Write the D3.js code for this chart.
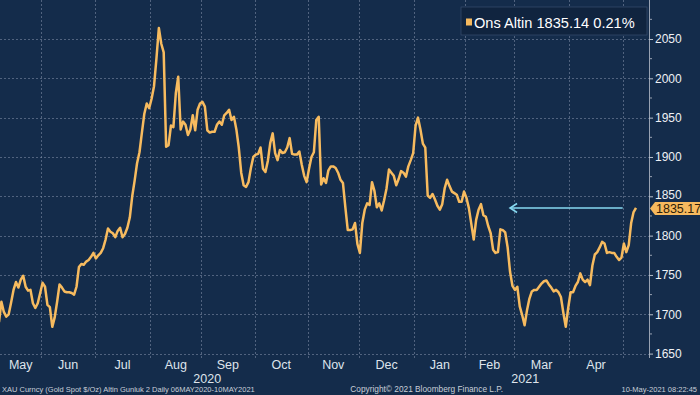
<!DOCTYPE html>
<html>
<head>
<meta charset="utf-8">
<script src="https://cdn.jsdelivr.net/npm/d3@7"></script>
<style>
  html, body { margin: 0; padding: 0; background: #142c4b; }
  svg { display: block; }
  text { font-family: "Liberation Sans", Arial, sans-serif; }
</style>
</head>
<body>
<div id="chart"></div>
<script>
const w = 700;
const h = 395;
const plot = { left: 0, right: 649, top: 0, bottom: 358 };

// trading sessions (weekdays) from first to last day
const firstSession = "2020-05-06";
const lastSession = "2021-05-10";

// daily gold spot closes, one array per month
const may20 = [1690, 1716, 1703, 1697, 1700, 1715, 1731, 1741, 1734, 1744, 1749, 1735, 1730, 1731, 1714, 1708, 1714, 1727];
const jun20 = [1740, 1735, 1712, 1709, 1684, 1696, 1716, 1738, 1734, 1729, 1728, 1728, 1727, 1725, 1735, 1760, 1764, 1763, 1767, 1769, 1773, 1778];
const jul20 = [1771, 1775, 1778, 1784, 1795, 1809, 1805, 1803, 1798, 1806, 1810, 1798, 1802, 1810, 1823, 1850, 1870, 1892, 1906, 1931, 1955, 1968, 1962];
const aug20 = [1974, 1990, 2025, 2064, 2044, 2033, 1913, 1915, 1940, 1938, 1981, 2002, 1935, 1945, 1941, 1928, 1935, 1953, 1934, 1960, 1968];
const sep20 = [1970, 1964, 1934, 1931, 1932, 1932, 1941, 1945, 1941, 1953, 1956, 1960, 1947, 1951, 1935, 1912, 1880, 1864, 1862, 1868, 1886, 1900];
const oct20 = [1903, 1904, 1912, 1885, 1881, 1895, 1918, 1930, 1905, 1896, 1909, 1905, 1906, 1912, 1924, 1904, 1903, 1903, 1907, 1890, 1876, 1868];
const nov20 = [1885, 1900, 1906, 1947, 1951, 1865, 1873, 1867, 1883, 1888, 1888, 1886, 1880, 1871, 1867, 1836, 1807, 1807, 1808, 1816, 1789];
const dec20 = [1778, 1816, 1833, 1841, 1839, 1868, 1857, 1836, 1841, 1832, 1845, 1860, 1884, 1880, 1876, 1864, 1872, 1882, 1880, 1875, 1888, 1896, 1905];
const jan21 = [1940, 1950, 1935, 1917, 1912, 1851, 1848, 1853, 1846, 1838, 1833, 1840, 1860, 1871, 1863, 1856, 1854, 1852, 1843, 1843, 1856];
const feb21 = [1848, 1835, 1815, 1795, 1820, 1833, 1840, 1826, 1824, 1812, 1803, 1782, 1778, 1779, 1808, 1807, 1804, 1785, 1754, 1736];
const mar21 = [1731, 1735, 1710, 1699, 1686, 1705, 1720, 1729, 1731, 1731, 1735, 1739, 1742, 1743, 1738, 1734, 1729, 1731, 1728, 1722, 1702, 1684, 1708];
const apr21 = [1728, 1728, 1736, 1741, 1752, 1744, 1741, 1744, 1737, 1762, 1776, 1779, 1785, 1792, 1790, 1778, 1779, 1778, 1778, 1773, 1769, 1772];
const may21 = [1790, 1779, 1788, 1816, 1830, 1835.17];

const monthStarts = ["2020-06-01", "2020-07-01", "2020-08-01", "2020-09-01", "2020-10-01", "2020-11-01",
  "2020-12-01", "2021-01-01", "2021-02-01", "2021-03-01", "2021-04-01", "2021-05-01"];
const monthLabels = ["May", "Jun", "Jul", "Aug", "Sep", "Oct", "Nov", "Dec", "Jan", "Feb", "Mar", "Apr"];
const yearLabels = ["2020", "2021"];
const yTicks = [1650, 1700, 1750, 1800, 1850, 1900, 1950, 2000, 2050];
const yMinor = [1675, 1725, 1775, 1825, 1875, 1925, 1975, 2025, 2075];

const legendText = "Ons Altin 1835.14 0.21%";
const lastLabel = "1835.17";
const arrowDates = ["2021-02-25", "2021-05-03"];
const footLeft = "XAU Curncy (Gold Spot   $/Oz) Altin Gunluk 2  Daily 06MAY2020-10MAY2021";
const footMid = "Copyright\u00A9 2021 Bloomberg Finance L.P.";
const footRight = "10-May-2021 08:22:45";

const closes = [].concat(may20, jun20, jul20, aug20, sep20, oct20, nov20, dec20, jan21, feb21, mar21, apr21, may21);

const parse = d3.timeParse("%Y-%m-%d");
const sessions = d3.timeDay
  .range(parse(firstSession), d3.timeDay.offset(parse(lastSession), 1))
  .filter(d => d.getDay() !== 0 && d.getDay() !== 6);
const data = sessions.map((d, i) => ({ date: d, i: i, value: closes[i] }));
const sessionIndex = s => d3.bisectLeft(sessions, parse(s));

const x = d3.scaleLinear().domain([0, sessions.length - 1]).range([-1, 636]);
const y = d3.scaleLinear().domain([1650, 2050]).range([353.6, 39]);

const svg = d3.select("#chart").append("svg")
  .attr("width", w)
  .attr("height", h);

svg.append("rect")
  .attr("width", w).attr("height", h)
  .attr("fill", "#142c4b");

svg.append("clipPath").attr("id", "clip")
  .append("rect")
  .attr("x", plot.left).attr("y", plot.top)
  .attr("width", plot.right - plot.left).attr("height", plot.bottom - plot.top);

// grid
const gridX = monthStarts.map(m => x(sessionIndex(m) - 0.5));
const grid = svg.append("g")
  .attr("stroke", "#7a8aa3")
  .attr("stroke-opacity", 0.75)
  .attr("stroke-dasharray", "2,2")
  .attr("stroke-width", 0.8);

grid.selectAll("line.h")
  .data(yTicks)
  .enter().append("line")
  .attr("class", "h")
  .attr("x1", plot.left).attr("x2", plot.right)
  .attr("y1", d => Math.round(y(d)) + 0.5).attr("y2", d => Math.round(y(d)) + 0.5);

grid.selectAll("line.v")
  .data(gridX)
  .enter().append("line")
  .attr("class", "v")
  .attr("x1", d => Math.round(d) + 0.5).attr("x2", d => Math.round(d) + 0.5)
  .attr("y1", plot.top).attr("y2", plot.bottom);

// price line
const line = d3.line()
  .x(d => x(d.i))
  .y(d => y(d.value));

svg.append("path")
  .datum(data)
  .attr("clip-path", "url(#clip)")
  .attr("fill", "none")
  .attr("stroke", "#f7bb5f")
  .attr("stroke-width", 2.5)
  .attr("stroke-linejoin", "round")
  .attr("d", line);

// annotation arrow at last price
const lastValue = closes[closes.length - 1];
const ay = y(lastValue);
const ax0 = x(sessionIndex(arrowDates[0]));
const ax1 = x(sessionIndex(arrowDates[1]) - 0.5);
const arrow = svg.append("g")
  .attr("stroke", "#86d8f0")
  .attr("stroke-width", 1.6)
  .attr("fill", "none");
arrow.append("line")
  .attr("x1", ax0).attr("x2", ax1)
  .attr("y1", ay).attr("y2", ay);
arrow.append("path")
  .attr("d", `M${ax0 + 7},${ay - 4.5} L${ax0},${ay} L${ax0 + 7},${ay + 4.5}`);

// right axis
svg.append("line")
  .attr("x1", plot.right + 0.5).attr("x2", plot.right + 0.5)
  .attr("y1", plot.top).attr("y2", plot.bottom)
  .attr("stroke", "#98a2b2")
  .attr("stroke-width", 1);

svg.append("g")
  .selectAll("line")
  .data(yMinor)
  .enter().append("line")
  .attr("x1", plot.right).attr("x2", plot.right + 3)
  .attr("y1", d => y(d)).attr("y2", d => y(d))
  .attr("stroke", "#98a2b2");

const yAxis = d3.axisRight(y)
  .tickValues(yTicks)
  .tickSize(4)
  .tickPadding(2)
  .tickFormat(d3.format("d"));

const yg = svg.append("g")
  .attr("transform", `translate(${plot.right}, 0)`)
  .call(yAxis);
yg.select(".domain").remove();
yg.selectAll(".tick line").attr("stroke", "#b8c0cc");
yg.selectAll(".tick text")
  .attr("fill", "#eef1f5")
  .attr("dy", d => d === 1850 ? "0.2em" : "0.32em")
  .style("font-size", "12px")
  .style("font-family", "\"Liberation Sans\", Arial, sans-serif");

// last price tag
const tag = svg.append("g").attr("transform", `translate(${plot.right + 1}, ${ay + 0.5})`);
tag.append("path")
  .attr("d", "M0,0 L5,-6.5 L51,-6.5 L51,6.5 L5,6.5 Z")
  .attr("fill", "#f6b95e");
tag.append("text")
  .attr("x", 6).attr("y", 4.5)
  .attr("fill", "#2e2108")
  .style("font-size", "12.5px")
  .text(lastLabel);

// month + year labels
const bounds = [plot.left].concat(gridX);
svg.append("g")
  .selectAll("text")
  .data(monthLabels)
  .enter().append("text")
  .attr("x", (d, i) => (bounds[i] + bounds[i + 1]) / 2)
  .attr("y", 369)
  .attr("text-anchor", "middle")
  .attr("fill", "#dfe4ec")
  .style("font-size", "12.5px")
  .text(d => d);

const janX = gridX[monthLabels.indexOf("Jan") - 1];
const yearX = [(plot.left + janX) / 2, (janX + x(sessions.length - 1)) / 2];
svg.append("g")
  .selectAll("text")
  .data(yearLabels)
  .enter().append("text")
  .attr("x", (d, i) => yearX[i])
  .attr("y", 383)
  .attr("text-anchor", "middle")
  .attr("fill", "#dfe4ec")
  .style("font-size", "12.5px")
  .text(d => d);

// legend
const legend = svg.append("g");
legend.append("rect")
  .attr("x", 461).attr("y", 7)
  .attr("width", 186).attr("height", 28)
  .attr("fill", "#10243f")
  .attr("stroke", "#34496a")
  .attr("stroke-width", 0.8);
legend.append("rect")
  .attr("x", 466).attr("y", 18.5)
  .attr("width", 6).attr("height", 7)
  .attr("fill", "#f6b95e");
legend.append("text")
  .attr("x", 474).attr("y", 28)
  .attr("fill", "#ffffff")
  .style("font-size", "14.6px")
  .text(legendText);

// footer
const foot = svg.append("g")
  .attr("fill", "#c9cfd9")
  .style("font-size", "7.5px")
  .style("white-space", "pre");
foot.append("text").attr("x", 2).attr("y", 392).text(footLeft);
foot.append("text").attr("x", 503).attr("y", 392).attr("text-anchor", "end")
  .style("font-size", "8.3px").text(footMid);
foot.append("text").attr("x", 697).attr("y", 392).attr("text-anchor", "end").text(footRight);
</script>
</body>
</html>
